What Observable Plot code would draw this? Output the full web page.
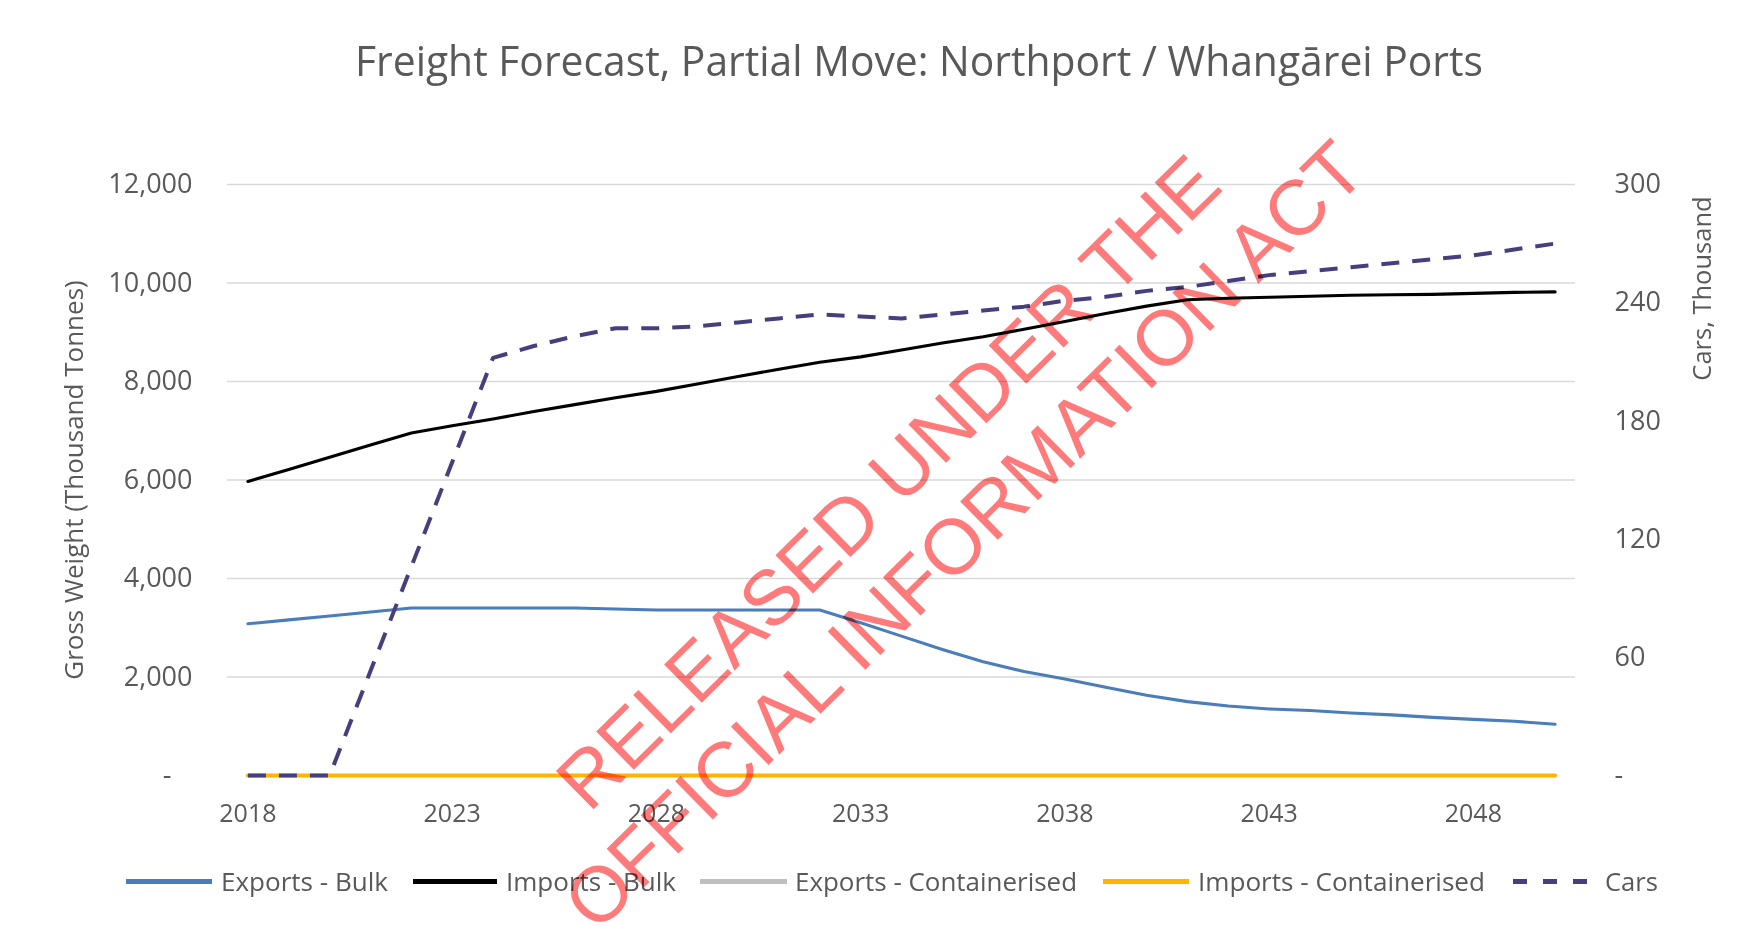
<!DOCTYPE html>
<html>
<head>
<meta charset="utf-8">
<script src="https://cdn.jsdelivr.net/npm/d3@7"></script>
<script src="https://cdn.jsdelivr.net/npm/@observablehq/plot@0.6"></script>
<style>
  html, body { margin: 0; padding: 0; background: #fff; }
  #wrap { position: relative; width: 1751px; height: 926px; overflow: hidden; font-family: "Open Sans", sans-serif; color: #595959; }
  #title { position: relative; height: 110px; }
  #title span { position: absolute; left: 919px; top: 60px; font-size: 42px; line-height: 1; white-space: nowrap; transform-origin: center center; color: #595959; }
  #chart { height: 740px; }
  #legend { position: relative; height: 76px; }
  .lg-line { position: absolute; height: 0; top: 31px; }
  .lg-text { position: absolute; top: 31px; font-size: 25px; line-height: 1; white-space: nowrap; transform-origin: left center; color: #595959; }
  .wm { position: absolute; font-family: "Liberation Sans", Arial, sans-serif; font-size: 78px; line-height: 1; white-space: nowrap; color: #ff7b7b; mix-blend-mode: multiply; pointer-events: none; }
</style>
</head>
<body>
<div id="wrap">
  <div id="title"><span>Freight Forecast, Partial Move: Northport / Whangārei Ports</span></div>
  <div id="chart"></div>
  <div id="legend"></div>
  <div class="wm" id="wm1">RELEASED UNDER THE</div>
  <div class="wm" id="wm2">OFFICIAL INFORMATION ACT</div>
</div>
<script>
const years = [2018, 2019, 2020, 2021, 2022, 2023, 2024, 2025, 2026, 2027, 2028,
  2029, 2030, 2031, 2032, 2033, 2034, 2035, 2036, 2037, 2038, 2039,
  2040, 2041, 2042, 2043, 2044, 2045, 2046, 2047, 2048, 2049, 2050];

const exportsBulk = [3080, 3160, 3240, 3320, 3400, 3400, 3400, 3400, 3400, 3380, 3360,
  3360, 3360, 3360, 3360, 3100, 2830, 2560, 2310, 2110, 1960, 1790,
  1630, 1500, 1410, 1350, 1320, 1270, 1230, 1180, 1140, 1100, 1040];

const importsBulk = [5970, 6215, 6460, 6710, 6956, 7100, 7240, 7390, 7530, 7670, 7800,
  7950, 8100, 8250, 8390, 8500, 8640, 8780, 8910, 9060, 9220, 9380,
  9530, 9660, 9690, 9710, 9730, 9750, 9760, 9770, 9790, 9810, 9820];

const exportsContainerised = [0, 0, 0, 0, 0, 0, 0, 0, 0, 0, 0,
  0, 0, 0, 0, 0, 0, 0, 0, 0, 0, 0,
  0, 0, 0, 0, 0, 0, 0, 0, 0, 0, 0];

const importsContainerised = [0, 0, 0, 0, 0, 0, 0, 0, 0, 0, 0,
  0, 0, 0, 0, 0, 0, 0, 0, 0, 0, 0,
  0, 0, 0, 0, 0, 0, 0, 0, 0, 0, 0];

const cars = [0, 0, 0, 53, 106, 159, 212, 218, 223, 227, 227,
  228, 230, 232, 234, 233, 232, 234, 236, 238, 241, 243,
  246, 248, 251, 254, 256, 258, 260, 262, 264, 267, 270];

const seriesNames = ["Exports - Bulk", "Imports - Bulk", "Exports - Containerised", "Imports - Containerised", "Cars"];
const seriesColors = ["#4a7dba", "#000000", "#bfbfbf", "#ffb400", "#463f7e"];
const seriesValues = [exportsBulk, importsBulk, exportsContainerised, importsContainerised, cars];

const xTicks = [2018, 2023, 2028, 2033, 2038, 2043, 2048];
const leftTicks = [0, 2000, 4000, 6000, 8000, 10000, 12000];
const rightTicks = [0, 60, 120, 180, 240, 300];
const leftMax = 12000, rightMax = 300;
const ratio = leftMax / rightMax;

const title = "Freight Forecast, Partial Move: Northport / Whangārei Ports";
const leftTitle = "Gross Weight (Thousand Tonnes)";
const rightTitle = "Cars, Thousand";

const tables = seriesNames.map((name, i) => years.map((yr, j) => ({
  series: name,
  year: yr,
  value: i === 4 ? seriesValues[i][j] * ratio : seriesValues[i][j]
})));

const lineMarks = tables.map((t, i) => Plot.line(t, {
  x: "year", y: "value",
  stroke: seriesColors[i],
  strokeWidth: i === 4 ? 4 : (i === 3 ? 4 : 3.1),
  strokeDasharray: i === 4 ? "18,13" : null,
  strokeLinecap: i === 4 ? "butt" : "round",
  strokeLinejoin: "round",
  curve: "linear"
}));

const fmtLeft = d => d === 0 ? "-\u00a0\u00a0\u00a0" : d3.format(",")(d);
const fmtRight = d => d === 0 ? "-" : String(d);

const chart = Plot.plot({
  width: 1751,
  height: 740,
  marginLeft: 227,
  marginRight: 176,
  marginTop: 74,
  marginBottom: 75,
  style: { fontFamily: "Open Sans, sans-serif", color: "#595959", background: "#fff" },
  x: { domain: [2017.5, 2050.5] },
  y: { domain: [0, leftMax] },
  marks: [
    Plot.ruleY(leftTicks.filter(t => t > 0), { stroke: "#d9d9d9", strokeWidth: 1.3 }),
    Plot.axisY({ anchor: "left", ticks: leftTicks, tickSize: 0, tickPadding: 35, tickFormat: fmtLeft, fontSize: 27, label: null }),
    Plot.axisY({ anchor: "right", ticks: rightTicks.map(t => t * ratio), tickSize: 0, tickPadding: 39, tickFormat: d => fmtRight(d / ratio), fontSize: 27, label: null }),
    Plot.axisX({ anchor: "bottom", ticks: xTicks, tickSize: 0, tickPadding: 29, tickFormat: d => String(d), fontSize: 25, label: null }),
    Plot.text([leftTitle], { frameAnchor: "left", dx: -153, rotate: -90, textAnchor: "middle", fontSize: 26, fill: "#595959" }),
    Plot.text([rightTitle], { frameAnchor: "top-right", dx: 117, dy: 104, rotate: -90, textAnchor: "middle", fontSize: 25.5, fill: "#595959" }),
    ...lineMarks
  ]
});
document.getElementById("chart").appendChild(chart);

// Legend
const legendLines = [[126, 212], [413, 497], [700, 787], [1103, 1189], [1513, 1597]];
const legendTextX = [221, 506, 795, 1198, 1605];
const legendTextW = [167, 170, 282, 287, 53];
const legend = document.getElementById("legend");
seriesNames.forEach((name, i) => {
  const ln = document.createElement("div");
  ln.className = "lg-line";
  ln.style.left = legendLines[i][0] + "px";
  ln.style.width = (legendLines[i][1] - legendLines[i][0]) + "px";
  const bw = 5;
  ln.style.marginTop = (-bw / 2) + "px";
  ln.style.borderTop = bw + "px solid " + seriesColors[i];
  if (i === 4) {
    ln.style.borderTop = "none";
    ln.style.height = bw + "px";
    ln.style.background = `repeating-linear-gradient(90deg, ${seriesColors[i]} 0 14px, transparent 14px 30px)`;
  }
  legend.appendChild(ln);
  const tx = document.createElement("div");
  tx.className = "lg-text";
  tx.textContent = name;
  tx.style.left = legendTextX[i] + "px";
  legend.appendChild(tx);
  const w = tx.getBoundingClientRect().width;
  const h = tx.getBoundingClientRect().height;
  tx.style.marginTop = (-h / 2) + "px";
  tx.style.transform = `scaleX(${legendTextW[i] / w})`;
});

// Title fit
const ts = document.querySelector("#title span");
ts.textContent = title;
const tw = ts.getBoundingClientRect().width;
ts.style.transform = `translate(-50%, -50%) scaleX(${1128 / tw})`;

// Watermark
function place(id, cx, cy, ang) {
  const el = document.getElementById(id);
  el.style.left = cx + "px";
  el.style.top = cy + "px";
  el.style.transform = `translate(-50%, -50%) rotate(${ang}deg)`;
}
place("wm1", 888, 482, -44.5);
place("wm2", 964, 535, -44.5);
</script>
</body>
</html>
